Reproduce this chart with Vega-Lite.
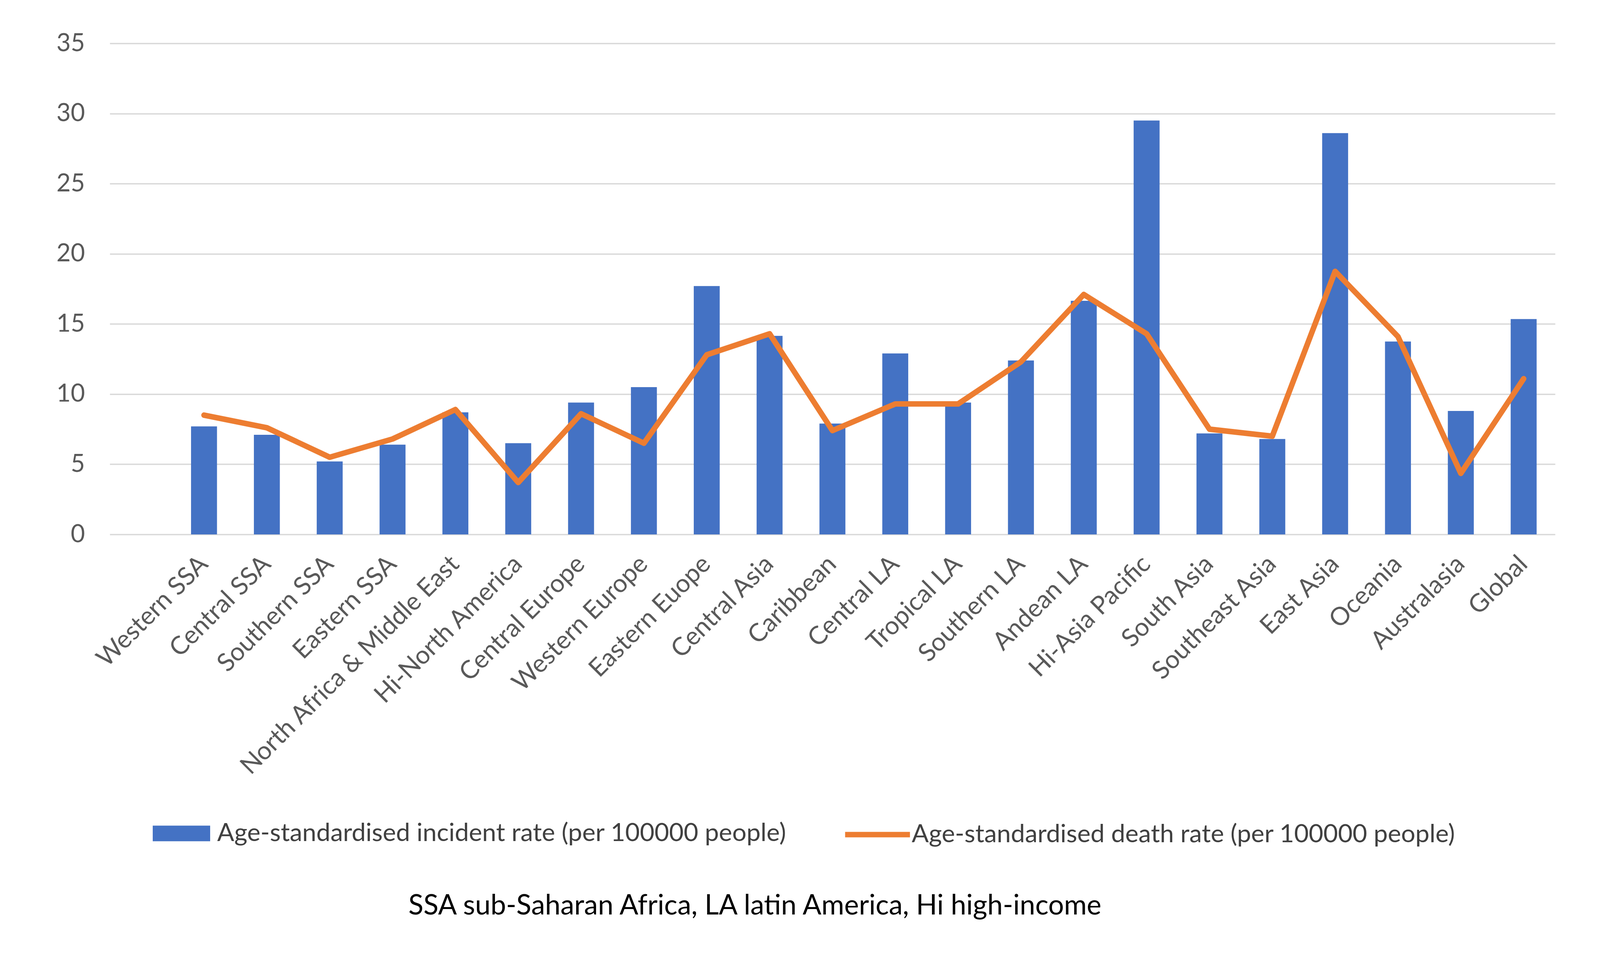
{
  "$schema": "https://vega.github.io/schema/vega-lite/v6.json",
  "autosize": {"type": "none"},
  "width": 3700,
  "height": 1257,
  "padding": {"left": 281, "top": 111, "right": 117, "bottom": 1005},
  "background": "#ffffff",
  "config": {"view": {"stroke": null}, "font": "Lato"},
  "data": {
    "values": [
      {"region": "Western SSA", "incidence": 7.7, "death": 8.5},
      {"region": "Central SSA", "incidence": 7.1, "death": 7.6},
      {"region": "Southern SSA", "incidence": 5.2, "death": 5.5},
      {"region": "Eastern SSA", "incidence": 6.4, "death": 6.8},
      {"region": "North Africa & Middle East", "incidence": 8.7, "death": 8.9},
      {"region": "Hi-North America", "incidence": 6.5, "death": 3.7},
      {"region": "Central Europe", "incidence": 9.4, "death": 8.6},
      {"region": "Western Europe", "incidence": 10.5, "death": 6.5},
      {"region": "Eastern Euope", "incidence": 17.7, "death": 12.8},
      {"region": "Central Asia", "incidence": 14.15, "death": 14.3},
      {"region": "Caribbean", "incidence": 7.9, "death": 7.4},
      {"region": "Central LA", "incidence": 12.9, "death": 9.3},
      {"region": "Tropical LA", "incidence": 9.4, "death": 9.3},
      {"region": "Southern LA", "incidence": 12.4, "death": 12.3},
      {"region": "Andean LA", "incidence": 16.65, "death": 17.1},
      {"region": "Hi-Asia Pacific", "incidence": 29.5, "death": 14.3},
      {"region": "South Asia", "incidence": 7.2, "death": 7.5},
      {"region": "Southeast Asia", "incidence": 6.8, "death": 7.0},
      {"region": "East Asia", "incidence": 28.6, "death": 18.75},
      {"region": "Oceania", "incidence": 13.75, "death": 14.1},
      {"region": "Australasia", "incidence": 8.8, "death": 4.35},
      {"region": "Global", "incidence": 15.35, "death": 11.1}
    ]
  },
  "layer": [
    {
      "mark": {"type": "bar"},
      "encoding": {
        "x": {
          "field": "region",
          "type": "nominal",
          "scale": {
            "domain": [" ", "Western SSA", "Central SSA", "Southern SSA", "Eastern SSA", "North Africa & Middle East", "Hi-North America", "Central Europe", "Western Europe", "Eastern Euope", "Central Asia", "Caribbean", "Central LA", "Tropical LA", "Southern LA", "Andean LA", "Hi-Asia Pacific", "South Asia", "Southeast Asia", "East Asia", "Oceania", "Australasia", "Global"],
            "paddingInner": 0.587,
            "paddingOuter": 0.2935
          },
          "axis": {
            "labelAngle": -45,
            "labelAlign": "right",
            "labelBaseline": "middle",
            "labelFont": "Lato",
            "labelFontSize": 64.5,
            "labelColor": "#595959",
            "labelPadding": 66,
            "labelLimit": 3000,
            "labelOverlap": false,
            "ticks": false,
            "tickSize": 0,
            "domain": false,
            "grid": false,
            "title": "SSA sub-Saharan Africa, LA latin America, Hi high-income",
            "titleFont": "Lato",
            "titleFontSize": 71,
            "titleFontWeight": "normal",
            "titleColor": "#000000",
            "titleX": 1651,
            "titleY": 951,
            "titleAlign": "center",
            "titleBaseline": "middle"
          }
        },
        "y": {
          "field": "incidence",
          "type": "quantitative",
          "scale": {"domain": [0, 35], "nice": false},
          "axis": {
            "values": [0, 5, 10, 15, 20, 25, 30, 35],
            "grid": true,
            "gridColor": "#d9d9d9",
            "gridWidth": 3.3,
            "domain": false,
            "ticks": false,
            "tickSize": 0,
            "labelPadding": 64,
            "labelFont": "Lato",
            "labelFontSize": 63,
            "labelColor": "#595959",
            "title": null
          }
        },
        "fill": {
          "datum": "Age-standardised incident rate (per 100000 people)",
          "scale": {"range": ["#4472c4"]},
          "legend": {
            "orient": "none",
            "legendX": 110,
            "legendY": 1949,
            "title": null,
            "padding": 0,
            "symbolType": "M-1,-0.271H1V0.271H-1Z",
            "symbolSize": 21609,
            "symbolStrokeWidth": 0,
            "labelFont": "Lato",
            "labelFontSize": 64.5,
            "labelColor": "#404040",
            "labelLimit": 3000,
            "labelOffset": 18
          }
        }
      }
    },
    {
      "mark": {"type": "line", "strokeWidth": 14.2, "strokeJoin": "round", "strokeCap": "round"},
      "encoding": {
        "x": {"field": "region", "type": "nominal"},
        "y": {"field": "death", "type": "quantitative"},
        "stroke": {
          "datum": "Age-standardised death rate (per 100000 people)",
          "scale": {"range": ["#ed7d31"]},
          "legend": {
            "orient": "none",
            "legendX": 1875,
            "legendY": 1935,
            "title": null,
            "padding": 0,
            "symbolType": "stroke",
            "symbolSize": 27556,
            "symbolStrokeWidth": 14.2,
            "labelFont": "Lato",
            "labelFontSize": 64.5,
            "labelColor": "#404040",
            "labelLimit": 3000,
            "labelOffset": -3
          }
        }
      }
    }
  ]
}
